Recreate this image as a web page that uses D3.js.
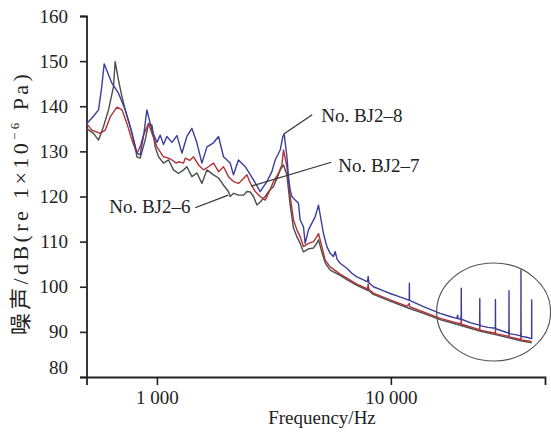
<!DOCTYPE html>
<html>
<head>
<meta charset="utf-8">
<script src="https://cdn.jsdelivr.net/npm/d3@7"></script>
<style>
  html, body { margin: 0; padding: 0; background: #fff; }
  svg { display: block; }
  text { font-family: "Liberation Serif", "Times New Roman", "Noto Sans CJK SC", serif; fill: #222; }
</style>
</head>
<body>
<svg id="chart" width="551" height="434"></svg>
<script>
// Spectra: [frequency (Hz), noise level (dB re 1e-6 Pa)]
const bj28 = [
  [500,136.1],[530,137.5],[563,139.2],[580,144.0],[595,149.4],[642,145.1],[685,142.9],[732,139.2],
  [782,134.1],[821,129.6],[848,129.2],[880,134.0],[906,139.2],[952,134.7],[1000,132.0],[1033,133.6],
  [1067,131.5],[1103,133.3],[1159,132.0],[1218,133.5],[1279,129.6],[1343,133.3],[1411,135.1],
  [1482,131.9],[1557,127.4],[1636,131.0],[1746,131.9],[1834,133.3],[1926,128.8],[2057,127.4],
  [2125,124.8],[2232,128.1],[2385,126.6],[2588,123.7],[2764,121.1],[2952,123.3],[3101,125.5],
  [3203,128.1],[3365,130.3],[3455,133.3],[3499,133.9],[3594,128.8],[3651,124.4],[3713,121.4],
  [3775,120.0],[3899,119.2],[4028,118.5],[4096,114.8],[4231,113.3],[4303,109.6],[4445,112.6],
  [4596,114.1],[4748,115.5],[4905,118.1],[5152,111.8],[5327,108.9],[5503,107.4],[5685,106.7],
  [5781,107.8],[5900,106.0],[6072,105.2],[6486,104.1],[6813,103.0],[7157,102.2],[7637,101.5],
  [7950,101.1],[8000,102.3],[8060,100.9],[8425,100.0],[9200,99.2],[9931,98.5],[11000,97.7],
  [11706,97.2],[11980,97.0],[12000,100.8],[12020,97.0],[13786,95.6],[16244,94.1],[17920,93.4],
  [19146,93.0],[19300,93.7],[19400,92.9],[19970,92.8],[20000,99.7],[20030,92.8],[22000,92.0],
  [23970,91.5],[24000,97.4],[24030,91.4],[26000,91.0],[27970,90.8],[28000,97.2],[28030,90.7],
  [30000,90.2],[31970,89.7],[32000,99.1],[32030,89.6],[34000,89.4],[35970,89.1],[36000,103.7],
  [36030,89.0],[38000,88.8],[39970,88.5],[40000,97.1],[40030,88.4]
];
const bj27 = [
  [500,136.2],[527,134.7],[572,134.0],[601,134.7],[632,137.7],[675,139.8],[709,139.2],[744,136.2],
  [782,132.5],[821,129.6],[848,131.0],[876,133.6],[921,136.2],[952,134.0],[1000,131.0],[1067,128.8],
  [1121,128.5],[1159,128.1],[1210,127.4],[1237,127.7],[1300,127.4],[1321,128.5],[1380,128.0],
  [1434,128.8],[1506,127.0],[1582,125.9],[1662,126.6],[1746,127.4],[1834,125.5],[1926,126.6],
  [2023,124.4],[2125,123.3],[2232,122.9],[2345,124.0],[2425,124.8],[2505,123.0],[2632,121.1],
  [2764,120.0],[2903,119.2],[2999,120.7],[3150,123.3],[3309,125.1],[3421,127.0],[3475,130.3],
  [3594,126.6],[3713,120.0],[3836,114.8],[3966,112.6],[4096,111.1],[4231,108.9],[4445,109.6],
  [4669,110.0],[4829,111.1],[4905,111.8],[5072,108.9],[5239,105.9],[5503,104.4],[6072,102.8],
  [6486,101.9],[7157,100.6],[7950,99.5],[8000,100.6],[8060,99.4],[8425,98.6],[9931,97.1],
  [11706,95.7],[12000,96.3],[12020,95.6],[13786,94.4],[16244,93.0],[19146,92.0],[19970,91.8],
  [20000,93.5],[20030,91.7],[23970,90.5],[24000,91.8],[24030,90.4],[27970,89.7],[28000,91.0],
  [28030,89.6],[31970,89.0],[32000,90.3],[32030,88.9],[35970,88.3],[36000,89.6],[36030,88.2],
  [40000,87.9]
];
const bj26 = [
  [500,135.1],[536,134.0],[563,132.5],[591,135.5],[621,139.2],[652,144.3],[663,149.9],[685,145.8],
  [709,142.1],[732,139.2],[769,135.5],[808,131.0],[821,128.8],[848,128.5],[891,132.5],[921,136.2],
  [952,135.8],[983,131.0],[1016,128.8],[1067,127.4],[1121,128.1],[1177,125.9],[1237,125.1],
  [1300,125.9],[1343,126.6],[1411,124.4],[1482,125.2],[1557,122.9],[1636,125.9],[1746,124.8],
  [1834,124.1],[1926,122.5],[2023,121.1],[2057,120.0],[2125,120.7],[2232,120.3],[2345,120.3],
  [2425,121.1],[2505,121.0],[2588,120.0],[2676,118.1],[2764,118.8],[2903,120.0],[2999,121.1],
  [3150,122.2],[3257,124.0],[3365,125.9],[3475,127.0],[3594,124.8],[3713,118.1],[3836,113.0],
  [3966,111.1],[4096,109.6],[4231,107.7],[4445,108.4],[4669,108.6],[4829,109.7],[4905,110.4],
  [5072,107.7],[5239,105.3],[5503,103.7],[6072,102.5],[6486,101.6],[7157,100.3],[7950,99.2],
  [8000,99.8],[8060,99.1],[8425,98.3],[9931,96.8],[11706,95.4],[13786,94.1],[16244,92.7],
  [19146,91.7],[23970,90.2],[27970,89.4],[31970,88.7],[35970,88.0],[40000,87.6]
];

const seriesNames = ["No. BJ2\u20136", "No. BJ2\u20137", "No. BJ2\u20138"];
const seriesColors = ["#4a4f4b", "#b23238", "#3b3d9c"];

const yMajorTicks = [80, 90, 100, 110, 120, 130, 140, 150, 160];
const yMinorTicks = [85, 95, 105, 115, 125, 135, 145, 155];
const xMajorTicks = [1000, 10000];
const xMajorLabels = ["1 000", "10 000"];
const xMinorTicks = [500, 600, 700, 800, 900, 2000, 3000, 4000, 5000, 6000, 7000, 8000, 9000, 20000, 30000, 40000];

// leader lines: [from freq, from dB, to freq, to dB]
const leaders = [
  [1458, 117.5, 2017, 120.3],
  [2530, 122.3, 5560, 127.6],
  [3500, 133.9, 4611, 138.1]
];
const labelOffsets = [[-86, 5], [7, 10], [9, 7]];

const svg = d3.select("#chart");
const x = d3.scaleLog().domain([500, 45600]).range([86.5, 545]);
const y = d3.scaleLinear().domain([80, 160]).range([377, 16]);

// Axes
const gy = svg.append("g").attr("transform", "translate(86.5,0)");
gy.call(d3.axisLeft(y).tickValues(yMinorTicks).tickSize(3.5).tickFormat(""));
gy.call(d3.axisLeft(y).tickValues(yMajorTicks).tickSize(6.5).tickFormat(d3.format("d")).tickPadding(12));
gy.selectAll("path.domain").attr("stroke", "#222").attr("stroke-width", 1.8);
gy.selectAll(".tick line").attr("stroke", "#222").attr("stroke-width", 1.6);
gy.selectAll(".tick text").attr("font-size", 19)
  .attr("font-family", "Liberation Serif, serif")
  .attr("fill", "#222")
  .attr("dy", d => d === 80 ? "-0.2em" : "0.32em");

const gx = svg.append("g").attr("transform", "translate(0,377)");
gx.call(d3.axisBottom(x).tickValues(xMinorTicks).tickSize(4.5).tickFormat(""));
gx.call(d3.axisBottom(x).tickValues(xMajorTicks).tickSize(8)
  .tickFormat((d, i) => xMajorLabels[i]).tickPadding(6));
gx.selectAll("path.domain").attr("stroke", "#222").attr("stroke-width", 1.8);
gx.selectAll(".tick line").attr("stroke", "#222").attr("stroke-width", 1.6);
gx.selectAll(".tick text").attr("font-size", 19)
  .attr("font-family", "Liberation Serif, serif")
  .attr("fill", "#222");

// Spectrum lines
const line = d3.line().x(d => x(d[0])).y(d => y(d[1]));
[bj26, bj27, bj28].forEach((s, i) => {
  svg.append("path").datum(s)
    .attr("d", line)
    .attr("fill", "none")
    .attr("stroke", seriesColors[i])
    .attr("stroke-width", 1.4)
    .attr("stroke-linejoin", "round");
});

// Highlight ring around the high-frequency tonal peaks
svg.append("ellipse")
  .attr("cx", x(27500)).attr("cy", y(94.4))
  .attr("rx", 57).attr("ry", 49)
  .attr("fill", "none").attr("stroke", "#555").attr("stroke-width", 1.2);

// Series labels with leader lines
leaders.forEach((l, i) => {
  svg.append("line")
    .attr("x1", x(l[0])).attr("y1", y(l[1]))
    .attr("x2", x(l[2])).attr("y2", y(l[3]))
    .attr("stroke", "#333").attr("stroke-width", 1.2);
  const ax = i === 0 ? x(l[0]) : x(l[2]);
  const ay = i === 0 ? y(l[1]) : y(l[3]);
  svg.append("text")
    .attr("x", ax + labelOffsets[i][0]).attr("y", ay + labelOffsets[i][1])
    .attr("font-size", 19)
    .text(seriesNames[i]);
});

// Axis titles
svg.append("text")
  .attr("x", 322).attr("y", 423.5)
  .attr("text-anchor", "middle")
  .attr("font-size", 19)
  .text("Frequency/Hz");

const yt = svg.append("text")
  .attr("transform", "translate(28,203) rotate(-90)")
  .attr("text-anchor", "middle")
  .attr("font-size", 22)
  .attr("letter-spacing", 3.4);
yt.append("tspan").text("噪声/dB(re 1×10");
yt.append("tspan").attr("font-size", 13).attr("dy", -9).text("−6");
yt.append("tspan").attr("dy", 9).text(" Pa)");
</script>
</body>
</html>
